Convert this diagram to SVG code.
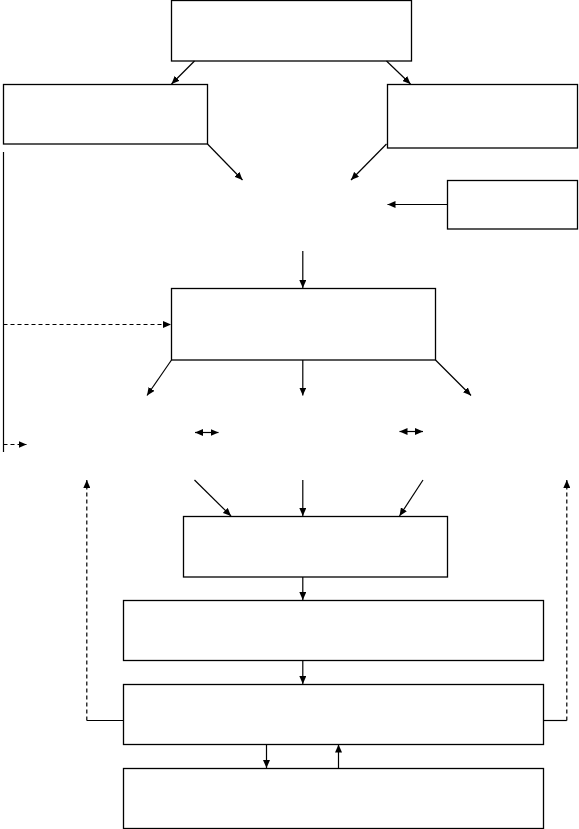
<svg xmlns="http://www.w3.org/2000/svg" width="579" height="829" viewBox="0 0 579 829">
<style>
.box{fill:#fff;stroke:#000;stroke-width:1.3}
.ln{fill:none;stroke:#000;stroke-width:1.2}
.ar{marker-end:url(#ah)}
.dash{stroke-dasharray:4,3}
</style>
<defs>
<marker id="ah" markerUnits="userSpaceOnUse" markerWidth="9" markerHeight="7" refX="8" refY="3.5" orient="auto-start-reverse" viewBox="0 0 9 7">
<path d="M0,0 L8,3.5 L0,7 z" fill="#000"/>
</marker>
</defs>
<rect width="579" height="829" fill="#fff"/>
<g id="n1"><rect class="box" x="171.5" y="0.5" width="240" height="60.5"/></g>
<g id="n2"><rect class="box" x="3.5" y="84.5" width="204" height="59.5"/></g>
<g id="n3"><rect class="box" x="387.5" y="84.5" width="190" height="63.5"/></g>
<g id="n4"><rect class="box" x="447.5" y="180.5" width="130" height="48.5"/></g>
<g id="n5"><rect class="box" x="171.5" y="288.5" width="264" height="71.5"/></g>
<g id="n6"><rect class="box" x="183.5" y="516.5" width="264" height="60.5"/></g>
<g id="n7"><rect class="box" x="123.5" y="600.5" width="420" height="60"/></g>
<g id="n8"><rect class="box" x="123.5" y="684.5" width="420" height="60"/></g>
<g id="n9"><rect class="box" x="123.5" y="768.5" width="420" height="60"/></g>
<g id="connectors">
<path class="ln ar" d="M194.5,61 L171.5,84"/>
<path class="ln ar" d="M386.5,61 L410.5,84"/>
<path class="ln ar" d="M207.5,144 L242.5,180"/>
<path class="ln ar" d="M386.5,144 L351,180"/>
<path class="ln ar" d="M447.5,204.5 L387.5,204.5"/>
<path class="ln" d="M3.5,152 L3.5,452"/>
<path class="ln ar" d="M302.8,251 L302.8,288"/>
<path class="ln ar dash" d="M3.5,324.5 L171,324.5"/>
<path class="ln ar" d="M171.5,360 L147,395.5"/>
<path class="ln ar" d="M302.8,360 L302.8,395.5"/>
<path class="ln ar" d="M435.5,360 L471,395.5"/>
<path class="ln ar" d="M195,432.5 L218.5,432.5" marker-start="url(#ah)"/>
<path class="ln ar" d="M399.5,431.5 L423,431.5" marker-start="url(#ah)"/>
<path class="ln ar dash" d="M3.5,444.5 L26.5,444.5"/>
<path class="ln ar" d="M194.5,480 L231,516"/>
<path class="ln ar" d="M302.8,480 L302.8,516"/>
<path class="ln ar" d="M423,480 L399.5,516"/>
<path class="ln ar" d="M302.8,577 L302.8,600"/>
<path class="ln ar" d="M302.8,661 L302.8,684"/>
<path class="ln ar" d="M266.5,744.5 L266.5,768"/>
<path class="ln ar" d="M338.5,768 L338.5,744.5"/>
<path class="ln" d="M123.5,720.5 L86.8,720.5"/>
<path class="ln ar dash" d="M86.8,720.5 L86.8,480"/>
<path class="ln" d="M543.5,720.5 L566.8,720.5"/>
<path class="ln ar dash" d="M566.8,720.5 L566.8,480"/>
</g>
</svg>
